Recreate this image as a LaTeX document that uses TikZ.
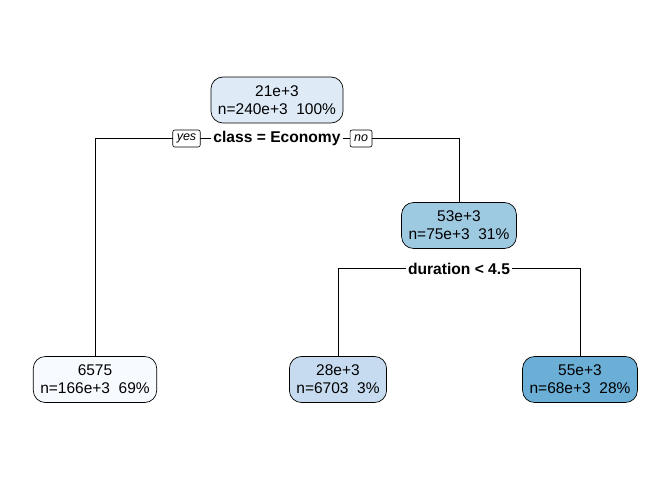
\documentclass[tikz,border=0pt]{standalone}
\usepackage{fontspec}
\setmainfont{Liberation Sans}
\usepackage{xcolor}
\definecolor{blue0}{HTML}{F7FBFF}
\definecolor{blue1}{HTML}{DEEBF7}
\definecolor{blue2}{HTML}{C6DBEF}
\definecolor{blue3}{HTML}{9ECAE1}
\definecolor{blue4}{HTML}{6BAED6}
\tikzset{
  treenode/.style={draw, line width=0.7pt, rounded corners=12pt, align=center,
    inner xsep=7pt, minimum height=46pt, font=\fontsize{15.5}{18}\selectfont},
  splitlabel/.style={inner xsep=2pt, inner ysep=1pt, font=\fontsize{15.6}{18}\selectfont\bfseries},
  tag/.style={draw, fill=white, line width=0.6pt, rounded corners=2pt, inner xsep=4pt,
    inner ysep=0pt, minimum height=17pt, font=\fontsize{12.5}{14}\selectfont\itshape},
  edge/.style={line width=0.8pt}
}

\begin{document}
\begin{tikzpicture}[x=1pt,y=-1pt]
\useasboundingbox (0,0) rectangle (672,480);
\node [treenode, fill=blue1] (root) at (277,100) {21e+3\\n=240e+3\ \ 100\%};
\node [splitlabel] (split1) at (277,138.5) {class = Economy};
\node [treenode, fill=blue3] (node2) at (459,225.5) {53e+3\\n=75e+3\ \ 31\%};
\node [splitlabel] (split2) at (459,268.5) {duration < 4.5};
\node [treenode, fill=blue0] (leaf1) at (95,379.5) {6575\\n=166e+3\ \ 69\%};
\node [treenode, fill=blue2] (leaf2) at (338,379.5) {28e+3\\n=6703\ \ 3\%};
\node [treenode, fill=blue4] (leaf3) at (580,379.5) {55e+3\\n=68e+3\ \ 28\%};
\draw [edge] (split1.west) -| (leaf1.north);
\draw [edge] (split1.east) -| (node2.north);
\draw [edge] (split2.west) -| (leaf2.north);
\draw [edge] (split2.east) -| (leaf3.north);
\node [tag] (yes) at (186.5,138.5) {yes};
\node [tag] (no) at (361,138.5) {no};
\end{tikzpicture}
\end{document}
